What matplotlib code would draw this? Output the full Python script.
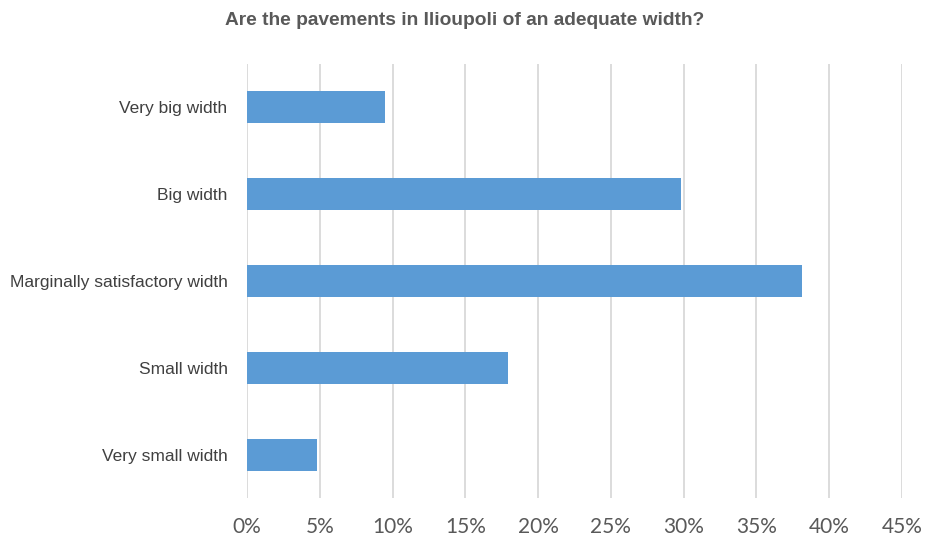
import numpy as np
import matplotlib.pyplot as plt
from matplotlib.ticker import MultipleLocator, FuncFormatter

# survey answers, bottom to top
categories = ["Very small width", "Small width", "Marginally satisfactory width",
              "Big width", "Very big width"]
shares = [4.8, 17.9, 38.1, 29.8, 9.5]

fig = plt.figure(figsize=(9.3, 5.4), dpi=100)
ax = fig.add_axes([0.2656, 0.0769, 0.7043, 0.8055])

y = np.arange(len(categories))
ax.barh(y, shares, height=0.36, color="#5B9BD5", zorder=3)

ax.set_xlim(0, 45)
ax.set_ylim(-0.5, len(categories) - 0.5)
ax.xaxis.set_major_locator(MultipleLocator(5))
ax.xaxis.set_major_formatter(FuncFormatter(lambda v, p: f"{v:.0f}%"))
ax.grid(axis="x", color="#D9D9D9", linewidth=1.3, zorder=0)

ax.set_yticks(y)
ax.set_yticklabels(categories, family="Liberation Sans", fontsize=12.5, color="#404040")
for lbl in ax.get_xticklabels():
    lbl.set_family("Lato")
    lbl.set_fontsize(15)
    lbl.set_color("#595959")

ax.tick_params(axis="both", length=0)
ax.tick_params(axis="x", pad=13)
ax.tick_params(axis="y", pad=14)
for s in ax.spines.values():
    s.set_visible(False)

fig.text(0.5, 0.962, "Are the pavements in Ilioupoli of an adequate width?",
         ha="center", va="center", family="Liberation Sans", fontweight="bold",
         fontsize=13.8, color="#595959")

fig.savefig("out.png", dpi=100)
